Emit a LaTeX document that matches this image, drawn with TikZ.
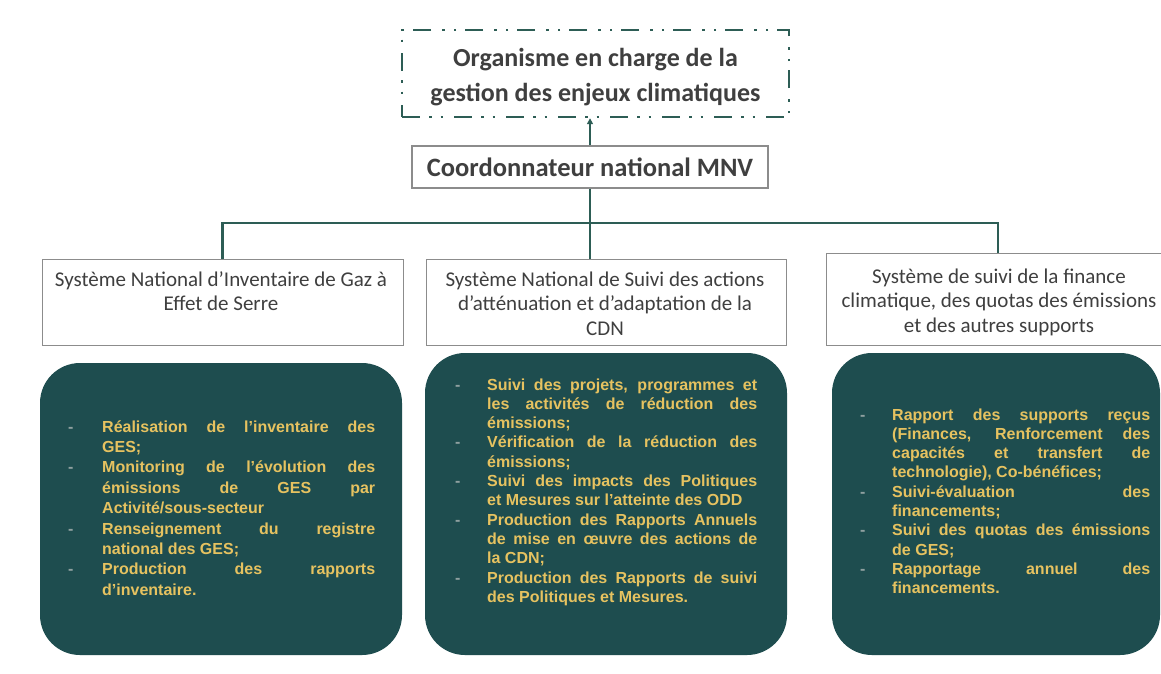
\documentclass[tikz,border=0pt]{standalone}
\usepackage{fontspec}
\setmainfont{Carlito}
\newfontfamily\bodyfont{Liberation Sans}
\usetikzlibrary{arrows.meta}
\definecolor{connC}{HTML}{2D5D55}
\definecolor{boxC}{HTML}{1E4D4F}
\definecolor{goldC}{HTML}{E6C260}
\definecolor{dashC}{HTML}{8FA0A0}
\definecolor{hdrC}{HTML}{3F3F3F}
\definecolor{bordC}{HTML}{8C8C8C}
\newcommand{\itm}[2]{\par\noindent\hangindent=#1pt\hangafter=1\makebox[#1pt][l]{\textcolor{dashC}{-}}#2}
\newcommand{\bodyset}[1]{\bodyfont\bfseries\fontsize{16}{#1}\selectfont\hyphenpenalty=10000\emergencystretch=20pt}
\tikzset{
  conn/.style={draw=connC, line width=2.5pt},
  topbox/.style={draw=connC, line width=2.4pt, dash pattern=on 18pt off 9pt on 2.5pt off 9pt on 2.5pt off 11pt,
     minimum width=387pt, minimum height=87pt, inner sep=0pt},
  toptext/.style={align=center, text=hdrC, font=\fontsize{26}{35}\selectfont\bfseries, inner sep=0pt},
  coordbox/.style={draw=bordC, line width=1.2pt, minimum width=356pt, minimum height=42pt, text=hdrC,
     font=\fontsize{26.5}{30}\selectfont\bfseries, inner sep=0pt},
  hdbox/.style={draw=bordC, line width=1pt, fill=white, inner sep=0pt},
  hdtext/.style={text=hdrC, font=\fontsize{21}{24.5}\selectfont, inner sep=0pt, anchor=base},
  bodybox/.style={fill=boxC, rounded corners=40pt, inner sep=0pt},
  bodytext/.style={anchor=base west, inner sep=0pt, text=goldC},
}
\begin{document}
\begin{tikzpicture}[x=1pt,y=-1pt]
\clip (0,0) rectangle (1161,673);
\fill[white] (0,0) rectangle (1161,673);

% top and coordinator
\node[topbox] (top) at (595.5,73.5) {};
\node[toptext] (topt) at (595.5,77.5) {Organisme en charge de la\\gestion des enjeux climatiques};
\node[coordbox] (coord) at (590,167) {Coordonnateur national MNV};

% header boxes
\node[hdbox, minimum width=361pt, minimum height=86pt] (h1) at (222.5,302) {};
\node[hdbox, minimum width=360pt, minimum height=86pt] (h2) at (606,302) {};
\node[hdbox, minimum width=343pt, minimum height=92pt] (h3) at (998,299) {};
\node[hdtext] (h1t) at (221,286) {\parbox[t]{360pt}{\centering Système National d’Inventaire de Gaz à\\Effet de Serre}};
\node[hdtext] (h2t) at (605,286) {\parbox[t]{360pt}{\centering Système National de Suivi des actions\\d’atténuation et d’adaptation de la\\CDN}};
\node[hdtext] (h3t) at (999,283) {\parbox[t]{360pt}{\centering Système de suivi de la finance\\climatique, des quotas des émissions\\et des autres supports}};

% connectors
\coordinate (bus) at (590,223);
\draw[conn, -{Triangle[length=6pt,width=6pt]}] (coord.north) -- (coord.north |- top.south);
\draw[conn] (coord.south) -- (coord.south |- h2.north);
\draw[conn] (h1.north) |- (bus) -| (h3.north);

% body boxes
\node[bodybox, minimum width=362pt, minimum height=292pt] (b1) at (221,509) {};
\node[bodybox, minimum width=362pt, minimum height=302pt] (b2) at (606,504) {};
\node[bodybox, minimum width=328pt, minimum height=302pt] (b3) at (996,504) {};

\node[bodytext] (t1) at (68,432) {\parbox[t]{307pt}{\bodyset{20.4}
\itm{34}{Réalisation de l’inventaire des \linebreak GES;}
\itm{34}{Monitoring de l’évolution des \linebreak émissions de GES par \linebreak Activité/sous-secteur}
\itm{34}{Renseignement du registre \linebreak national des GES;}
\itm{34}{Production des rapports \linebreak d’inventaire.}\par}};

\node[bodytext] (t2) at (455,390) {\parbox[t]{302pt}{\bodyset{19.3}
\itm{32}{Suivi des projets, programmes et \linebreak les activités de réduction des \linebreak émissions;}
\itm{32}{Vérification de la réduction des \linebreak émissions;}
\itm{32}{Suivi des impacts des Politiques \linebreak et Mesures sur l’atteinte des ODD}
\itm{32}{Production des Rapports Annuels \linebreak de mise en œuvre des actions de \linebreak la CDN;}
\itm{32}{Production des Rapports de suivi \linebreak des Politiques et Mesures.}\par}};

\node[bodytext] (t3) at (860,420) {\parbox[t]{290pt}{\bodyset{19.3}
\itm{32}{Rapport des supports reçus \linebreak (Finances, Renforcement des \linebreak capacités et transfert de \linebreak technologie), Co-bénéfices;}
\itm{32}{Suivi-évaluation des \linebreak financements;}
\itm{32}{Suivi des quotas des émissions \linebreak de GES;}
\itm{32}{Rapportage annuel des \linebreak financements.}\par}};
\end{tikzpicture}
\end{document}
